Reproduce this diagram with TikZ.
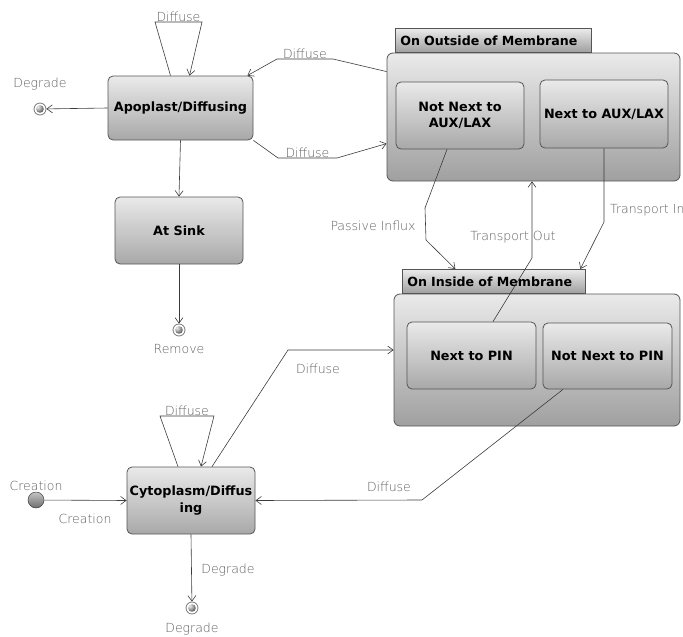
\documentclass[tikz,border=0pt]{standalone}
\usepackage{fontspec}
\setmainfont{DejaVu Sans}
\newfontfamily\lightfont{DejaVu Sans ExtraLight}
\usetikzlibrary{arrows.meta,positioning}
\definecolor{edgecol}{RGB}{60,60,60}
\definecolor{labcol}{RGB}{95,95,95}
\definecolor{boxline}{RGB}{85,85,85}
\definecolor{boxtop}{RGB}{234,234,234}
\definecolor{boxbot}{RGB}{168,168,168}
\definecolor{ringcol}{RGB}{120,120,120}
\begin{document}
\begin{tikzpicture}[x=1pt,y=-1pt,
  >={Straight Barb[length=5.5pt,width=8pt]},
  statebox/.style={draw=boxline, line width=0.8pt, rounded corners=5pt,
    top color=boxtop, bottom color=boxbot, inner sep=0pt, align=center,
    font=\fontsize{12.8}{16.5}\selectfont\bfseries},
  groupbox/.style={draw=boxline, line width=0.8pt, rounded corners=6pt,
    top color=boxtop, bottom color=boxbot!95!black, inner sep=0pt},
  tabbox/.style={draw=boxline, line width=0.7pt, top color=boxtop!95!white,
    bottom color=boxbot!110, inner xsep=5pt, inner ysep=0pt, align=left,
    font=\fontsize{12.6}{15}\selectfont\bfseries},
  edge/.style={draw=edgecol, line width=0.6pt},
  lab/.style={text=labcol, font=\fontsize{12.5}{15}\selectfont\lightfont, inner sep=1pt},
  finalstate/.style={circle, draw=ringcol, line width=0.8pt, fill=white,
    minimum size=12pt, inner sep=0pt,
    path picture={\shade[ball color=gray!75] (path picture bounding box.center) circle (3.8pt);}},
  initstate/.style={circle, draw=gray!50!black, line width=0.5pt,
    top color=gray!45, bottom color=gray!85!black, minimum size=16pt, inner sep=0pt}
]
\useasboundingbox (0,0) rectangle (683,637);

% ---- outside of membrane group ----
\node[groupbox, minimum width=293pt, minimum height=128pt] (outer) at (533.5,117) {};
\node[tabbox, anchor=north west, minimum height=24pt, text width=186pt] (outtab) at (395,28) {On Outside of Membrane};
\node[statebox, minimum width=128pt, minimum height=67pt] (notaux) at (460,115.5) {Not Next to\\AUX/LAX};
\node[statebox, minimum width=128pt, minimum height=68pt] (aux) at (604,114) {Next to AUX/LAX};

% ---- inside of membrane group ----
\node[groupbox, minimum width=286pt, minimum height=132pt] (inner) at (537,360) {};
\node[tabbox, anchor=north west, minimum height=24pt, text width=173pt] (intab) at (402,269) {On Inside of Membrane};
\node[statebox, minimum width=129pt, minimum height=67pt] (pin) at (471.5,355.5) {Next to PIN};
\node[statebox, minimum width=129pt, minimum height=66pt] (notpin) at (607.5,356) {Not Next to PIN};

% ---- simple states ----
\node[statebox, minimum width=145pt, minimum height=64pt] (apo) at (180.5,108) {Apoplast/Diffusing};
\node[statebox, minimum width=128pt, minimum height=67pt] (sink) at (179,230.5) {At Sink};
\node[statebox, minimum width=128pt, minimum height=67pt] (cyt) at (191,500.5) {Cytoplasm/Diffus\\ing};

% ---- pseudo states ----
\node[finalstate] (deg1) at (40,109) {};
\node[lab, above=18pt of deg1.center] (deg1lab) {Degrade};
\node[finalstate] (remove) at (179,330) {};
\node[lab, below=13pt of remove.center] (removelab) {Remove};
\node[finalstate] (deg2) at (192,608) {};
\node[lab, below=14pt of deg2.center] (deg2lab) {Degrade};
\node[initstate] (init) at (36,500) {};
\node[lab, above=8pt of init.center] (initlab) {Creation};

% ---- transitions around the apoplast ----
\draw[edge,->] ([xshift=-10pt]apo.north) -- (155,22) -- node[lab, above=-1pt] {Diffuse} (202,22) -- ([xshift=9pt]apo.north);
\draw[edge,->] (apo.west) -- (deg1);
\draw[edge,->] (apo.south) -- (sink.north);
\draw[edge,->] (sink.south) -- (remove);
\draw[edge,->] ([yshift=-19pt]outer.north west) -- (333,59) -- node[lab, above=-1pt] {Diffuse} (277,59) -- ([xshift=-6pt]apo.north east);
\draw[edge,->] (apo.south east) -- (278,158) -- node[lab, above=-1pt] {Diffuse} (337,158) -- ([yshift=-91pt]outer.north west);

% ---- transitions across the membrane ----
\draw[edge,->] ([xshift=-13pt]notaux.south) -- (425,208) -- (426,240) -- ([xshift=-38.5pt]intab.north);
\node[lab] (passlab) at (373,226) {Passive Influx};
\draw[edge,->] (aux.south) -- (604,222) -- ([xshift=86.5pt]intab.north);
\node[lab, anchor=west] (tinlab) at (609,210) {Transport In};
\draw[edge,->] ([xshift=21.5pt]pin.north) -- (532,258) -- ([xshift=-1.5pt]outer.south);
\node[lab] (toutlab) at (513,237) {Transport Out};

% ---- transitions around the cytoplasm ----
\draw[edge,->] ([xshift=-13pt]cyt.north) -- (160,416) -- node[lab, above=-1pt] {Diffuse} (214,416) -- ([xshift=10pt]cyt.north);
\draw[edge,->] ([xshift=21pt]cyt.north) -- (288,350) -- ([yshift=10pt]inner.west);
\node[lab] (cdlab) at (318,369) {Diffuse};
\draw[edge,->] ([xshift=-44.5pt]notpin.south) -- (422,500) -- (cyt.east);
\node[lab] (ndlab) at (389,487) {Diffuse};
\draw[edge,->] (init) -- (cyt.west);
\node[lab] (crlab) at (85,519) {Creation};
\draw[edge,->] (cyt.south) -- (deg2);
\node[lab] (dglab) at (228,570) {Degrade};
\end{tikzpicture}
\end{document}
